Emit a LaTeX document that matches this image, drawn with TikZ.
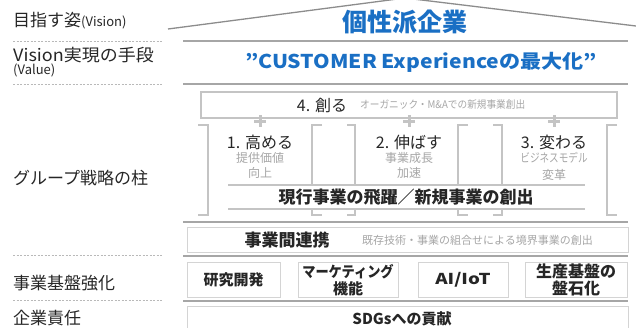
\documentclass[tikz,border=0pt]{standalone}
\usepackage{fontspec}
\setmainfont{Noto Sans CJK JP}
\definecolor{blu}{HTML}{1A6FC4}
\definecolor{ln}{HTML}{A6A6A6}
\definecolor{roof}{HTML}{8C8C8C}
\definecolor{br}{HTML}{C4C4C4}
\definecolor{bx}{HTML}{D4D4D4}
\definecolor{gt}{HTML}{A6A6A6}
\definecolor{tx}{HTML}{262626}
\tikzset{
 fs/.style={font=\fontsize{#1}{#1}\selectfont},
 bfs/.style={font=\fontsize{#1}{#1}\selectfont\bfseries},
 lbl/.style={anchor=west, inner sep=0, text=tx},
 hline/.style={draw=ln, line width=2pt},
 dline/.style={draw=gray!55, dash pattern=on 2pt off 1.5pt, line width=0.7pt},
 brk/.style={draw=br, line width=2pt},
 cbox/.style={draw=bx, line width=1pt, fill=white},
 grey/.style={text=gt, inner sep=0},
 pill/.style={inner sep=0, text=tx},
 plusmark/.style={draw=br, line width=3pt},
}
\begin{document}
\begin{tikzpicture}[x=1pt,y=-1pt]
\useasboundingbox (0,0) rectangle (636,327);
% roof
\draw[roof, line width=1.3pt] (168,29) -- (405,-2) -- (636,26);
% horizontal rules
\draw[hline] (183,41) -- (628,41);
\draw[hline] (183,84) -- (628,84);
\draw[hline] (183,222) -- (628,222);
\draw[hline] (183,256) -- (628,256);
\draw[hline] (183,301) -- (628,301);
% left dashed rules
\foreach \yy in {41,84,255,300} \draw[dline] (13,\yy) -- (162,\yy);
% left labels
\node[lbl] (l1) at (13,21) {{\fontsize{17}{17}\selectfont 目指す姿}{\fontsize{13}{13}\selectfont (Vision)}};
\node[lbl, fs=17] (l2) at (13,55) {\scalebox{1.06}[1]{Vision実現の手段}};
\node[lbl, fs=13] (l2b) at (13,70) {(Value)};
\node[lbl, fs=17] (l3) at (13,178) {グループ戦略の柱};
\node[lbl, fs=17] (l4) at (13,283) {事業基盤強化};
\node[lbl, fs=17] (l5) at (13,318) {企業責任};
% vision
\node[inner sep=0, text=blu, bfs=25] (vis) at (405,22) {個性派企業};
\node[inner sep=0, text=blu, bfs=19] (val) at (421,62) {\scalebox{1.11}[1]{”CUSTOMER Experienceの最大化”}};
% 4. create box
\draw[br, line width=1.5pt] (201,92) rectangle (617,118);
\node[pill, fs=16] (c4) at (322,105) {4. 創る};
\node[grey, fs=10.5, anchor=west] (c4s) at (360,105) {\scalebox{0.92}[1]{オーガニック・M\&Aでの新規事業創出}};
% brackets
\draw[brk] (198,125) -- (208,125) -- (208,215) -- (198,215);
\draw[brk] (322,125) -- (312,125) -- (312,215) -- (322,215);
\draw[brk] (347,125) -- (355,125) -- (355,215) -- (347,215);
\draw[brk] (468,125) -- (458,125) -- (458,215) -- (468,215);
\draw[brk] (493,125) -- (502,125) -- (502,215) -- (493,215);
\draw[brk] (617,125) -- (607,125) -- (607,215) -- (617,215);
% plus marks
\foreach \xx in {260,409,554} {
  \draw[plusmark] (\xx-6,121) -- (\xx+6,121);
  \draw[plusmark] (\xx,115) -- (\xx,127);
}
% pillars
\node[pill, fs=16] (p1) at (260,142) {1. 高める};
\node[grey, fs=12, align=center, text width=60pt] (p1s) at (260,165) {提供価値\\[3pt]向上};
\node[pill, fs=16] (p2) at (409,142) {2. 伸ばす};
\node[grey, fs=12, align=center, text width=60pt] (p2s) at (409,165) {事業成長\\[3pt]加速};
\node[pill, fs=16] (p3) at (554,142) {3. 変わる};
\node[grey, fs=12, align=center, text width=80pt] (p3s) at (554,166) {\scalebox{0.8}[1]{ビジネスモデル}\\[5pt]変革};
% band
\fill[white] (228,185) rectangle (585,209);
\draw[br, line width=1.5pt] (228,185) -- (585,185);
\draw[br, line width=1.5pt] (228,209) -- (585,209);
\node[pill, bfs=17] (band) at (406,197) {現行事業の飛躍／新規事業の創出};
% cooperation box
\draw[cbox] (187,227) rectangle (628,252);
\node[pill, bfs=17] (coop) at (287,240) {事業間連携};
\node[grey, fs=11, anchor=west] (coops) at (362,240) {既存技術・事業の組合せによる境界事業の創出};
% foundation boxes
\draw[cbox] (187,262) rectangle (280,297);
\node[pill, bfs=15] (f1) at (233.5,280) {研究開発};
\draw[cbox] (298,262) rectangle (398,297);
\node[pill, bfs=15, align=center] (f2) at (348,280) {\scalebox{0.88}[1]{マーケティング}\\[2pt]機能};
\draw[cbox] (418,262) rectangle (508,297);
\node[pill, bfs=15] (f3) at (463,280) {\scalebox{1.25}[1]{AI/IoT}};
\draw[cbox] (525,262) rectangle (627,297);
\node[pill, bfs=16, align=center] (f4) at (576,280) {生産基盤の\\[1pt]盤石化};
% SDGs box
\draw[cbox] (187,306) rectangle (628,332);
\node[pill, bfs=15] (sdg) at (402,319) {SDGsへの貢献};
\end{tikzpicture}
\end{document}
